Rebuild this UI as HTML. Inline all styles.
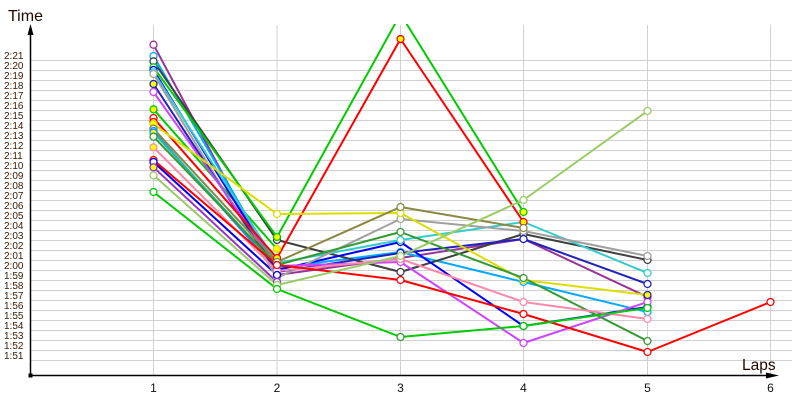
<!DOCTYPE html>
<html><head><meta charset="utf-8"><style>
html,body{margin:0;padding:0;background:#fff;}
svg{display:block;}
text{font-family:"Liberation Sans",sans-serif;}
</style></head><body>
<svg width="800" height="400" viewBox="0 0 800 400" xmlns="http://www.w3.org/2000/svg">
<defs><clipPath id="pc"><rect x="30" y="24" width="770" height="351"/></clipPath></defs>
<g stroke="#d0d0d0" stroke-width="1" shape-rendering="crispEdges">
<line x1="30" y1="60.5" x2="792" y2="60.5"/><line x1="30" y1="70.5" x2="792" y2="70.5"/><line x1="30" y1="80.5" x2="792" y2="80.5"/><line x1="30" y1="90.5" x2="792" y2="90.5"/><line x1="30" y1="100.5" x2="792" y2="100.5"/><line x1="30" y1="110.5" x2="792" y2="110.5"/><line x1="30" y1="120.5" x2="792" y2="120.5"/><line x1="30" y1="130.5" x2="792" y2="130.5"/><line x1="30" y1="140.5" x2="792" y2="140.5"/><line x1="30" y1="150.5" x2="792" y2="150.5"/><line x1="30" y1="160.5" x2="792" y2="160.5"/><line x1="30" y1="170.5" x2="792" y2="170.5"/><line x1="30" y1="180.5" x2="792" y2="180.5"/><line x1="30" y1="190.5" x2="792" y2="190.5"/><line x1="30" y1="200.5" x2="792" y2="200.5"/><line x1="30" y1="210.5" x2="792" y2="210.5"/><line x1="30" y1="220.5" x2="792" y2="220.5"/><line x1="30" y1="230.5" x2="792" y2="230.5"/><line x1="30" y1="240.5" x2="792" y2="240.5"/><line x1="30" y1="250.5" x2="792" y2="250.5"/><line x1="30" y1="260.5" x2="792" y2="260.5"/><line x1="30" y1="270.5" x2="792" y2="270.5"/><line x1="30" y1="280.5" x2="792" y2="280.5"/><line x1="30" y1="290.5" x2="792" y2="290.5"/><line x1="30" y1="300.5" x2="792" y2="300.5"/><line x1="30" y1="310.5" x2="792" y2="310.5"/><line x1="30" y1="320.5" x2="792" y2="320.5"/><line x1="30" y1="330.5" x2="792" y2="330.5"/><line x1="30" y1="340.5" x2="792" y2="340.5"/><line x1="30" y1="350.5" x2="792" y2="350.5"/><line x1="30" y1="360.5" x2="792" y2="360.5"/>
<line x1="153.5" y1="25" x2="153.5" y2="375"/><line x1="277" y1="25" x2="277" y2="375"/><line x1="400.5" y1="25" x2="400.5" y2="375"/><line x1="523.5" y1="25" x2="523.5" y2="375"/><line x1="647.5" y1="25" x2="647.5" y2="375"/><line x1="770.5" y1="25" x2="770.5" y2="375"/>
</g>
<g font-size="10" fill="#3a1a00">
<text x="4" y="59">2:21</text><text x="4" y="69">2:20</text><text x="4" y="79">2:19</text><text x="4" y="89">2:18</text><text x="4" y="99">2:17</text><text x="4" y="109">2:16</text><text x="4" y="119">2:15</text><text x="4" y="129">2:14</text><text x="4" y="139">2:13</text><text x="4" y="149">2:12</text><text x="4" y="159">2:11</text><text x="4" y="169">2:10</text><text x="4" y="179">2:09</text><text x="4" y="189">2:08</text><text x="4" y="199">2:07</text><text x="4" y="209">2:06</text><text x="4" y="219">2:05</text><text x="4" y="229">2:04</text><text x="4" y="239">2:03</text><text x="4" y="249">2:02</text><text x="4" y="259">2:01</text><text x="4" y="269">2:00</text><text x="4" y="279">1:59</text><text x="4" y="289">1:58</text><text x="4" y="299">1:57</text><text x="4" y="309">1:56</text><text x="4" y="319">1:55</text><text x="4" y="329">1:54</text><text x="4" y="339">1:53</text><text x="4" y="349">1:52</text><text x="4" y="359">1:51</text>
</g>
<g font-size="12" fill="#111" text-anchor="middle">
<text x="153.5" y="392">1</text><text x="277" y="392">2</text><text x="400.5" y="392">3</text><text x="523.5" y="392">4</text><text x="647.5" y="392">5</text><text x="770.5" y="392">6</text>
</g>
<text x="8" y="21" font-size="16" fill="#200800">Time</text>
<text x="742" y="370" font-size="15.5" fill="#200800">Laps</text>
<g stroke="#000" stroke-width="1.5">
<line x1="30.5" y1="30" x2="30.5" y2="375.5"/>
<line x1="30" y1="375.5" x2="772" y2="375.5"/>
</g>
<polygon points="30.5,24 27.5,35 33.5,35" fill="#000"/>
<polygon points="779,375.5 766,372.5 766,378.5" fill="#000"/>
<rect x="28.5" y="373.5" width="4" height="4" fill="#000"/>
<g clip-path="url(#pc)" fill="none" stroke-width="2" stroke-linejoin="round">
<polyline stroke="#00cc00" points="153.5,109.3 277,249"/>
<polyline stroke="#1e90ff" points="153.5,131 277,270"/>
<polyline stroke="#22bbaa" points="153.5,132.7 277,266"/>
<polyline stroke="#0000ee" points="153.5,162 277,275"/>
<polyline stroke="#9933cc" points="153.5,167.3 277,282"/>
<polyline stroke="#993399" points="153.5,44.7 277,275 400.5,258 523.5,239 647.5,297"/>
<polyline stroke="#00aaff" points="153.5,56 277,268 400.5,252 523.5,282 647.5,312"/>
<polyline stroke="#404040" points="153.5,61.3 277,240 400.5,272 523.5,234 647.5,260"/>
<polyline stroke="#00cc00" points="153.5,67.3 277,237 400.5,14 523.5,212"/>
<polyline stroke="#0000ff" points="153.5,70 277,270 400.5,242 523.5,326 647.5,307"/>
<polyline stroke="#33cccc" points="153.5,72.3 277,263 400.5,240 523.5,222 647.5,273"/>
<polyline stroke="#a0a0a0" points="153.5,74 277,278 400.5,219 523.5,231 647.5,256"/>
<polyline stroke="#2222bb" points="153.5,84 277,272 400.5,253 523.5,239 647.5,284"/>
<polyline stroke="#cc44ff" points="153.5,92 277,266 400.5,262 523.5,343 647.5,302"/>
<polyline stroke="#ff0000" points="153.5,118 277,258 400.5,39 523.5,222"/>
<polyline stroke="#dddd00" points="153.5,124 277,214 400.5,213 523.5,280 647.5,295"/>
<polyline stroke="#888844" points="153.5,128.7 277,262 400.5,207 523.5,228"/>
<polyline stroke="#339933" points="153.5,136.7 277,265 400.5,232 523.5,278 647.5,341"/>
<polyline stroke="#ff88aa" points="153.5,147.3 277,271 400.5,259 523.5,302 647.5,319"/>
<polyline stroke="#ff0000" points="153.5,160 277,265 400.5,280 523.5,314 647.5,352 770.5,302"/>
<polyline stroke="#99cc66" points="153.5,175.3 277,285 400.5,256 523.5,200 647.5,111"/>
<polyline stroke="#00cc00" points="153.5,192 277,289 400.5,337 523.5,326 647.5,308"/>
</g>
<g stroke-width="1.3" fill="#fff">
<circle cx="153.5" cy="44.7" r="3.5" stroke="#993399"/><circle cx="277" cy="275" r="3.5" stroke="#993399"/><circle cx="400.5" cy="258" r="3.5" stroke="#993399"/><circle cx="523.5" cy="239" r="3.5" stroke="#993399"/><circle cx="647.5" cy="297" r="3.5" stroke="#993399"/>
<circle cx="153.5" cy="56" r="3.5" stroke="#00aaff"/><circle cx="277" cy="268" r="3.5" stroke="#00aaff"/><circle cx="400.5" cy="252" r="3.5" stroke="#00aaff"/><circle cx="523.5" cy="282" r="3.5" stroke="#00aaff"/><circle cx="647.5" cy="312" r="3.5" stroke="#00aaff"/>
<circle cx="153.5" cy="61.3" r="3.5" stroke="#404040"/><circle cx="277" cy="240" r="3.5" stroke="#404040"/><circle cx="400.5" cy="272" r="3.5" stroke="#404040"/><circle cx="523.5" cy="234" r="3.5" stroke="#404040"/><circle cx="647.5" cy="260" r="3.5" stroke="#404040"/>
<circle cx="153.5" cy="67.3" r="3.5" stroke="#00cc00"/><circle cx="277" cy="237" r="3.5" stroke="#00cc00" fill="#ffff00"/><circle cx="523.5" cy="212" r="3.5" stroke="#00cc00" fill="#ffff00"/>
<circle cx="153.5" cy="70" r="3.5" stroke="#0000ff"/><circle cx="277" cy="270" r="3.5" stroke="#0000ff"/><circle cx="400.5" cy="242" r="3.5" stroke="#0000ff" fill="#ffff00"/><circle cx="523.5" cy="326" r="3.5" stroke="#0000ff"/><circle cx="647.5" cy="307" r="3.5" stroke="#0000ff"/>
<circle cx="153.5" cy="72.3" r="3.5" stroke="#33cccc"/><circle cx="277" cy="263" r="3.5" stroke="#33cccc"/><circle cx="400.5" cy="240" r="3.5" stroke="#33cccc"/><circle cx="647.5" cy="273" r="3.5" stroke="#33cccc"/>
<circle cx="153.5" cy="74" r="3.5" stroke="#a0a0a0"/><circle cx="277" cy="278" r="3.5" stroke="#a0a0a0"/><circle cx="400.5" cy="219" r="3.5" stroke="#a0a0a0"/><circle cx="523.5" cy="231" r="3.5" stroke="#a0a0a0"/><circle cx="647.5" cy="256" r="3.5" stroke="#a0a0a0"/>
<circle cx="153.5" cy="84" r="3.5" stroke="#2222bb" fill="#ffff00"/><circle cx="277" cy="272" r="3.5" stroke="#2222bb"/><circle cx="400.5" cy="253" r="3.5" stroke="#2222bb"/><circle cx="523.5" cy="239" r="3.5" stroke="#2222bb"/><circle cx="647.5" cy="284" r="3.5" stroke="#2222bb"/>
<circle cx="153.5" cy="92" r="3.5" stroke="#cc44ff"/><circle cx="277" cy="266" r="3.5" stroke="#cc44ff"/><circle cx="400.5" cy="262" r="3.5" stroke="#cc44ff"/><circle cx="523.5" cy="343" r="3.5" stroke="#cc44ff"/><circle cx="647.5" cy="302" r="3.5" stroke="#cc44ff"/>
<circle cx="153.5" cy="109.3" r="3.5" stroke="#00cc00" fill="#ffff00"/><circle cx="277" cy="249" r="3.5" stroke="#dddd00" fill="#ffff00"/>
<circle cx="153.5" cy="118" r="3.5" stroke="#ff0000"/><circle cx="277" cy="258" r="3.5" stroke="#ff0000" fill="#ffff00"/><circle cx="400.5" cy="39" r="3.5" stroke="#ff0000" fill="#ffff00"/><circle cx="523.5" cy="222" r="3.5" stroke="#ff0000" fill="#ffff00"/>
<circle cx="153.5" cy="122" r="3.5" stroke="#ff0000" fill="#ffff00"/>
<circle cx="153.5" cy="124" r="3.5" stroke="#dddd00" fill="#ffff00"/><circle cx="277" cy="214" r="3.5" stroke="#dddd00"/><circle cx="400.5" cy="213" r="3.5" stroke="#dddd00"/><circle cx="523.5" cy="280" r="3.5" stroke="#dddd00"/><circle cx="647.5" cy="295" r="3.5" stroke="#2222bb" fill="#ffff00"/>
<circle cx="153.5" cy="128.7" r="3.5" stroke="#888844"/><circle cx="277" cy="262" r="3.5" stroke="#888844"/><circle cx="400.5" cy="207" r="3.5" stroke="#888844"/><circle cx="523.5" cy="228" r="3.5" stroke="#888844"/>
<circle cx="153.5" cy="131" r="3.5" stroke="#1e90ff"/><circle cx="153.5" cy="132.7" r="3.5" stroke="#1e90ff" fill="#ffff00"/>
<circle cx="153.5" cy="136.7" r="3.5" stroke="#339933"/><circle cx="277" cy="265" r="3.5" stroke="#339933" fill="#ffff00"/><circle cx="400.5" cy="232" r="3.5" stroke="#339933"/><circle cx="523.5" cy="278" r="3.5" stroke="#339933"/><circle cx="647.5" cy="341" r="3.5" stroke="#339933"/>
<circle cx="153.5" cy="147.3" r="3.5" stroke="#ff88aa" fill="#ffff00"/><circle cx="277" cy="271" r="3.5" stroke="#ff88aa"/><circle cx="400.5" cy="259" r="3.5" stroke="#ff88aa"/><circle cx="523.5" cy="302" r="3.5" stroke="#ff88aa"/><circle cx="647.5" cy="319" r="3.5" stroke="#ff88aa"/>
<circle cx="153.5" cy="160" r="3.5" stroke="#ff0000"/><circle cx="277" cy="265" r="3.5" stroke="#ff0000"/><circle cx="400.5" cy="280" r="3.5" stroke="#ff0000"/><circle cx="523.5" cy="314" r="3.5" stroke="#ff0000"/><circle cx="647.5" cy="352" r="3.5" stroke="#ff0000"/><circle cx="770.5" cy="302" r="3.5" stroke="#ff0000"/>
<circle cx="153.5" cy="162" r="3.5" stroke="#0000ee"/><circle cx="277" cy="275" r="3.5" stroke="#0000ee"/>
<circle cx="153.5" cy="167.3" r="3.5" stroke="#9933cc" fill="#ffff00"/><circle cx="277" cy="282" r="3.5" stroke="#9933cc"/>
<circle cx="153.5" cy="175.3" r="3.5" stroke="#99cc66"/><circle cx="277" cy="285" r="3.5" stroke="#99cc66"/><circle cx="400.5" cy="256" r="3.5" stroke="#99cc66"/><circle cx="523.5" cy="200" r="3.5" stroke="#99cc66"/><circle cx="647.5" cy="111" r="3.5" stroke="#99cc66"/>
<circle cx="153.5" cy="192" r="3.5" stroke="#00cc00"/><circle cx="277" cy="289" r="3.5" stroke="#00cc00"/><circle cx="400.5" cy="337" r="3.5" stroke="#339933"/><circle cx="523.5" cy="326" r="3.5" stroke="#00cc00"/><circle cx="647.5" cy="308" r="3.5" stroke="#00cc00"/>
</g>
</svg>
</body></html>
